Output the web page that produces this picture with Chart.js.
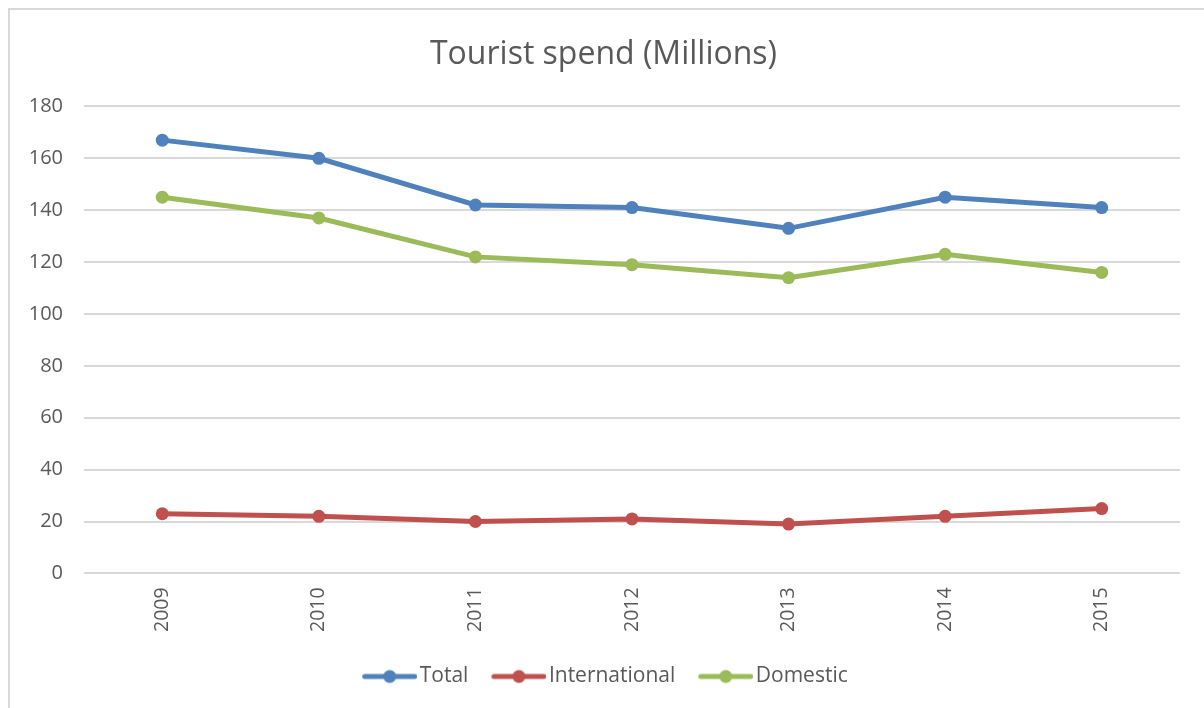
<!DOCTYPE html>
<html>
<head>
<meta charset="utf-8">
<script src="https://cdn.jsdelivr.net/npm/chart.js@4/dist/chart.umd.min.js"></script>
<style>
  html, body { margin: 0; padding: 0; background: #fff; overflow: hidden; }
  #frame { position: absolute; left: 8px; top: 8px; width: 1220px; height: 720px; border: 2px solid #d9d9d9; box-sizing: border-box; }
  #wrap { position: absolute; left: 0; top: 0; width: 1204px; height: 708px; }
</style>
</head>
<body>
<div id="frame"></div>
<div id="wrap"><canvas id="c" width="1204" height="708"></canvas></div>
<script>
const categories = ['2009', '2010', '2011', '2012', '2013', '2014', '2015'];
const totalValues = [167, 160, 142, 141, 133, 145, 141];
const internationalValues = [23, 22, 20, 21, 19, 22, 25];
const domesticValues = [145, 137, 122, 119, 114, 123, 116];
const seriesNames = ['Total', 'International', 'Domestic'];
const seriesColors = ['#4f81bd', '#c0504d', '#9bbb59'];
const yTicks = { min: 0, max: 180, step: 20 };

const FONT = '"Open Sans", "Noto Sans", "Liberation Sans", sans-serif';
const TEXT = '#595959';

// legend icon: line with a dot, with a transparent left margin so that
// Chart.js's centering places it right before the label text
function legendIcon(color) {
  const cv = document.createElement('canvas');
  cv.width = 66; cv.height = 16;
  const g = cv.getContext('2d');
  g.strokeStyle = color; g.lineWidth = 5; g.lineCap = 'round';
  g.beginPath(); g.moveTo(13.5, 8); g.lineTo(63.5, 8); g.stroke();
  g.fillStyle = color;
  g.beginPath(); g.arc(38.5, 8, 6.5, 0, Math.PI * 2); g.fill();
  return cv;
}

const seriesData = [totalValues, internationalValues, domesticValues];
const datasets = seriesData.map((vals, i) => ({
  label: seriesNames[i],
  data: vals,
  borderColor: seriesColors[i],
  backgroundColor: seriesColors[i],
  borderWidth: 5,
  pointRadius: 6.5,
  pointHoverRadius: 6.5,
  pointBorderWidth: 0,
  tension: 0,
  fill: false,
  pointStyle: 'circle'
}));

const icons = seriesColors.map(legendIcon);

new Chart(document.getElementById('c'), {
  type: 'line',
  data: { labels: categories, datasets: datasets },
  options: {
    responsive: false,
    animation: false,
    devicePixelRatio: 1,
    layout: { padding: { left: 27, right: 24, top: 30, bottom: 11 } },
    plugins: {
      title: {
        display: true,
        text: 'Tourist spend (Millions)',
        color: TEXT,
        font: { family: FONT, size: 32, weight: 'normal' },
        padding: { top: 6, bottom: 32 }
      },
      legend: {
        position: 'bottom',
        labels: {
          color: TEXT,
          font: { family: FONT, size: 21 },
          usePointStyle: true,
          pointStyleWidth: 50,
          boxHeight: 16,
          padding: 20,
          generateLabels: (chart) => chart.data.datasets.map((ds, i) => ({
            text: ds.label,
            pointStyle: icons[i],
            fillStyle: ds.borderColor,
            strokeStyle: ds.borderColor,
            lineWidth: 0,
            hidden: false,
            datasetIndex: i,
            fontColor: TEXT
          }))
        }
      },
      tooltip: { enabled: false }
    },
    scales: {
      x: {
        offset: true,
        grid: { display: false, drawTicks: false },
        border: { display: false },
        ticks: {
          color: TEXT,
          font: { family: FONT, size: 19.5 },
          minRotation: 90,
          maxRotation: 90,
          padding: 14
        }
      },
      y: {
        min: yTicks.min,
        max: yTicks.max,
        grid: { color: '#d9d9d9', lineWidth: 2, drawTicks: false },
        border: { display: false },
        afterFit: (scale) => { scale.width = 57; },
        ticks: {
          stepSize: yTicks.step,
          color: TEXT,
          font: { family: FONT, size: 20 },
          padding: 21
        }
      }
    }
  }
});
</script>
</body>
</html>
